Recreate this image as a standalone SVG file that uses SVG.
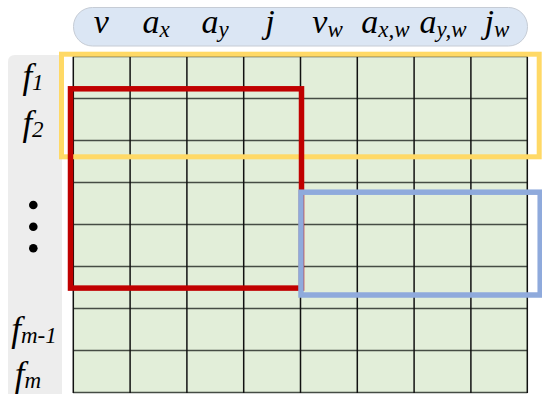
<svg xmlns="http://www.w3.org/2000/svg" width="542" height="394" viewBox="0 0 542 394">
  <style>
    .lbl { font-family: "Liberation Serif", "Times New Roman", serif; font-style: italic; fill: #000; }
    .hdr { font-size: 34px; }
    .row { font-size: 35px; }
    .sub { font-size: 23px; }
    .cell { fill: #e2eed9; }
    .vline { stroke: #111; stroke-width: 1.5; }
    .hline { stroke: #454c44; stroke-width: 1.6; }
    .box { fill: none; }
  </style>

  <!-- column header band -->
  <g id="header">
    <rect x="73.5" y="7.5" width="454" height="38.5" rx="19" ry="19" fill="#dbe6f4" stroke="#c6ccd5" stroke-width="1"/>
    <text class="lbl hdr" x="101.4" y="33" text-anchor="middle">v</text>
    <text class="lbl hdr" x="156" y="33" text-anchor="middle">a<tspan class="sub" dy="4">x</tspan></text>
    <text class="lbl hdr" x="215" y="33" text-anchor="middle">a<tspan class="sub" dy="4">y</tspan></text>
    <text class="lbl hdr" x="270" y="33" text-anchor="middle">j</text>
    <text class="lbl hdr" x="327.5" y="33" text-anchor="middle">v<tspan class="sub" dy="4">w</tspan></text>
    <text class="lbl hdr" x="385.5" y="33" text-anchor="middle">a<tspan class="sub" dy="4">x,w</tspan></text>
    <text class="lbl hdr" x="443" y="33" text-anchor="middle">a<tspan class="sub" dy="4">y,w</tspan></text>
    <text class="lbl hdr" x="497" y="33" text-anchor="middle">j<tspan class="sub" dy="4">w</tspan></text>
  </g>

  <!-- row label band -->
  <g id="row-labels">
    <path d="M8 62 Q8 55 15 55 L62 55 L62 394 L8 394 Z" fill="#ededed"/>
    <text class="lbl row" x="33" y="88" text-anchor="middle">f<tspan class="sub" dy="2">1</tspan></text>
    <text class="lbl row" x="33" y="135" text-anchor="middle">f<tspan class="sub" dy="2">2</tspan></text>
    <circle cx="33.3" cy="205" r="4.3" fill="#000"/>
    <circle cx="33.3" cy="226.7" r="4.3" fill="#000"/>
    <circle cx="33.3" cy="248.3" r="4.3" fill="#000"/>
    <text class="lbl row" x="34" y="341" text-anchor="middle">f<tspan class="sub" dy="2">m-1</tspan></text>
    <text class="lbl row" x="28" y="386" text-anchor="middle">f<tspan class="sub" dy="2">m</tspan></text>
  </g>

  <!-- 8 x 8 matrix -->
  <g id="grid">
    <rect class="cell" x="73" y="56.5" width="454.4" height="336"/>
    <g class="hline">
      <line x1="73" y1="56.5" x2="527.4" y2="56.5"/>
      <line x1="73" y1="98.5" x2="527.4" y2="98.5"/>
      <line x1="73" y1="140.5" x2="527.4" y2="140.5"/>
      <line x1="73" y1="182.5" x2="527.4" y2="182.5"/>
      <line x1="73" y1="224.5" x2="527.4" y2="224.5"/>
      <line x1="73" y1="266.5" x2="527.4" y2="266.5"/>
      <line x1="73" y1="308.5" x2="527.4" y2="308.5"/>
      <line x1="73" y1="350.5" x2="527.4" y2="350.5"/>
      <line x1="73" y1="392.5" x2="527.4" y2="392.5"/>
    </g>
    <g class="vline">
      <line x1="73.3" y1="56.5" x2="73.3" y2="393"/>
      <line x1="130.1" y1="56.5" x2="130.1" y2="393"/>
      <line x1="186.9" y1="56.5" x2="186.9" y2="393"/>
      <line x1="243.7" y1="56.5" x2="243.7" y2="393"/>
      <line x1="300.5" y1="56.5" x2="300.5" y2="393"/>
      <line x1="357.3" y1="56.5" x2="357.3" y2="393"/>
      <line x1="414.1" y1="56.5" x2="414.1" y2="393"/>
      <line x1="470.9" y1="56.5" x2="470.9" y2="393"/>
      <line x1="527.3" y1="56.5" x2="527.3" y2="393"/>
    </g>
  </g>

  <!-- highlighted sub-blocks -->
  <g id="blocks">
    <rect id="block-rows" class="box" x="61.5" y="54.2" width="477.7" height="102.6" stroke="#ffd966" stroke-width="5"/>
    <rect id="block-left" class="box" x="70.5" y="88.8" width="231" height="199.3" stroke="#c00000" stroke-width="5.5"/>
    <rect id="block-right" class="box" x="301" y="192.2" width="239.2" height="102.8" stroke="#8faadc" stroke-width="5.5"/>
  </g>
</svg>
